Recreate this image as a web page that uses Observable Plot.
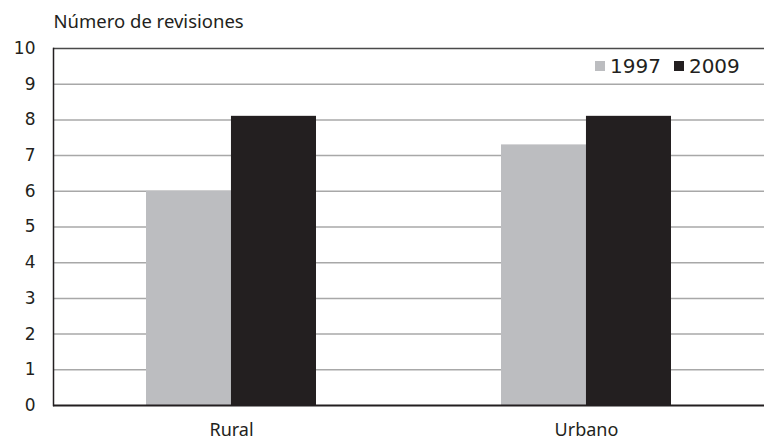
<!DOCTYPE html>
<html>
<head>
<meta charset="utf-8">
<script src="https://cdn.jsdelivr.net/npm/d3@7"></script>
<script src="https://cdn.jsdelivr.net/npm/@observablehq/plot@0.6"></script>
<style>
  html, body { margin: 0; padding: 0; background: #fff; }
  #wrap { position: relative; width: 765px; height: 441px; }
  #legend { position: absolute; left: 595px; top: 49px; }
  #legend span { margin-right: 13px !important; }
  #legend svg { margin-right: 5px !important; }
</style>
</head>
<body>
<div id="wrap"><div id="chart"></div><div id="legend"></div></div>
<script>
const title = "Número de revisiones";
const categories = ["Rural", "Urbano"];
const years = ["1997", "2009"];
const values1997 = [6.0, 7.3];
const values2009 = [8.1, 8.1];
const yTicks = [0, 1, 2, 3, 4, 5, 6, 7, 8, 9, 10];
const colors = ["#bcbdc0", "#231f20"];

const data1997 = categories.map((c, i) => ({cat: c, year: years[0], value: values1997[i]}));
const data2009 = categories.map((c, i) => ({cat: c, year: years[1], value: values2009[i]}));

const W = 765, H = 441;
const mL = 53, mR = 1, mT = 48, mB = 36;
const pad = 0.522;
const step = (W - mL - mR) / categories.length;
const half = step * (1 - pad) / 2;

const plot = Plot.plot({
  width: W,
  height: H,
  marginLeft: mL,
  marginRight: mR,
  marginTop: mT,
  marginBottom: mB,
  style: {fontFamily: "'DejaVu Sans', sans-serif", background: "#fff", color: "#231f20"},
  x: {domain: categories, paddingInner: pad, paddingOuter: pad / 2, label: null},
  y: {domain: [0, 10], label: null},
  marks: [
    Plot.ruleY(yTicks.filter(t => t > 0 && t < 10), {stroke: "#a8a8a8", strokeWidth: 1.5}),
    Plot.ruleY([10], {stroke: "#4a4a4a", strokeWidth: 1.5}),
    Plot.barY(data1997, {x: "cat", y: "value", fill: colors[0], insetLeft: 0, insetRight: half}),
    Plot.barY(data2009, {x: "cat", y: "value", fill: colors[1], insetLeft: half, insetRight: 0}),
    Plot.ruleY([0], {stroke: "#231f20", strokeWidth: 2}),
    Plot.frame({anchor: "left", stroke: "#231f20", strokeWidth: 1.5}),
    Plot.axisY({ticks: yTicks, tickSize: 0, tickPadding: 18, fontSize: 17, label: null, tickFormat: d => String(d)}),
    Plot.axisX({tickSize: 0, tickPadding: 18, fontSize: 18, fontFamily: "'Noto Sans', sans-serif", label: null}),
    Plot.text([title], {frameAnchor: "top-left", textAnchor: "start", lineAnchor: "bottom", dx: 0, dy: -21, fontSize: 18.5, fontFamily: "'Noto Sans', sans-serif", fill: "#231f20"})
  ]
});
document.getElementById("chart").append(plot);

const legend = Plot.legend({
  color: {domain: years, range: colors},
  legend: "swatches",
  swatchSize: 10,
  style: {fontFamily: "'DejaVu Sans', sans-serif", fontSize: "20px", color: "#231f20"}
});
document.getElementById("legend").append(legend);
</script>
</body>
</html>
